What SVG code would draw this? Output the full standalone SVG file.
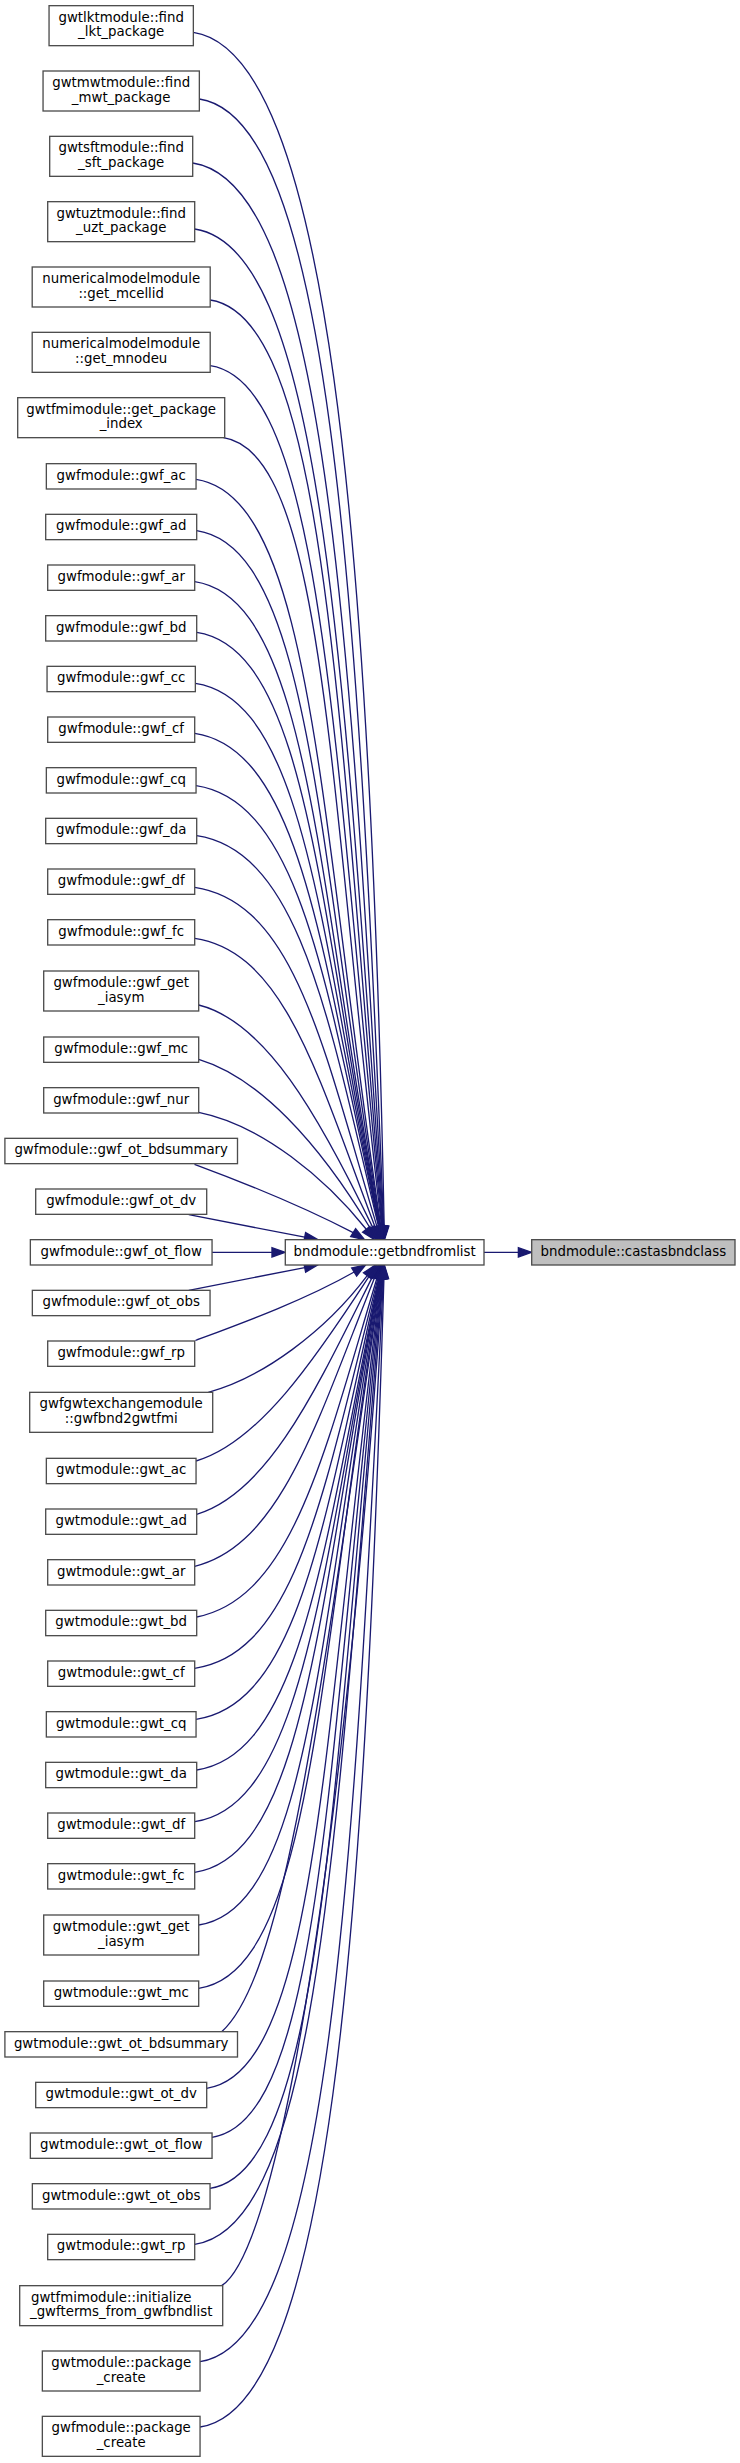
<svg xmlns="http://www.w3.org/2000/svg" width="740" height="2463" viewBox="0 0 740 2463">
<style>
.n rect{fill:#ffffff;stroke:#4d4d4d;stroke-width:1.33}
.root rect{fill:#bfbfbf}
text{font-family:"DejaVu Sans","Liberation Sans",sans-serif;font-size:13.33px;fill:#000000;text-anchor:middle}
.e path{fill:none;stroke:#191970;stroke-width:1.33}
.e polygon{fill:#191970;stroke:#191970;stroke-width:1.33}
</style>
<rect x="0" y="0" width="740" height="2463" fill="#ffffff"/>
<g id="edges" class="e">
<path d="M193.35,32.3 C326.95,52.3 370.33,533.84 384.18,1226.34"/><polygon points="384.45,1239.67 388.85,1226.25 379.51,1226.43"/>
<path d="M199.35,99 C327.65,118.25 357.6,574.75 383.66,1226.35"/><polygon points="384.19,1239.67 388.33,1226.16 378.99,1226.54"/>
<path d="M192.7,163 C323.2,182.6 349.7,615.96 383.27,1226.36"/><polygon points="384,1239.67 387.93,1226.1 378.61,1226.62"/>
<path d="M194.7,229 C321.3,248 343.18,658.87 382.88,1226.37"/><polygon points="383.81,1239.67 387.54,1226.04 378.22,1226.7"/>
<path d="M210.2,300 C324.1,317.1 338.09,703.69 382.49,1226.39"/><polygon points="383.62,1239.67 387.14,1225.99 377.84,1226.79"/>
<path d="M210.2,365.7 C321.9,382.5 333.9,744.41 382.1,1226.41"/><polygon points="383.43,1239.67 386.75,1225.95 377.45,1226.87"/>
<path d="M223.5,437.7 C324.2,452.8 329.09,788.74 381.59,1226.44"/><polygon points="383.18,1239.67 386.23,1225.88 376.95,1227"/>
<path d="M196.05,479.3 C312.45,496.8 318.92,813.99 380.82,1226.49"/><polygon points="382.8,1239.67 385.44,1225.8 376.2,1227.18"/>
<path d="M196.7,530.7 C310.8,547.8 317.54,845.22 380.44,1226.52"/><polygon points="382.61,1239.67 385.05,1225.76 375.83,1227.28"/>
<path d="M194.7,581.7 C308.1,598.7 316.76,875.15 380.06,1226.55"/><polygon points="382.42,1239.67 384.66,1225.72 375.46,1227.38"/>
<path d="M196.7,632.3 C307.1,648.9 318.7,905.07 379.8,1226.57"/><polygon points="382.29,1239.67 384.39,1225.7 375.21,1227.44"/>
<path d="M195.35,683.3 C304.75,699.7 321.06,934.3 379.56,1226.6"/><polygon points="382.17,1239.67 384.14,1225.68 374.98,1227.52"/>
<path d="M194.7,733.3 C302.9,749.5 324,963.22 379.3,1226.62"/><polygon points="382.04,1239.67 383.87,1225.66 374.73,1227.58"/>
<path d="M196.05,785.7 C301.65,801.5 327.55,992.55 379.05,1226.65"/><polygon points="381.91,1239.67 383.61,1225.65 374.49,1227.65"/>
<path d="M196.7,835.7 C300,851.2 329.05,1020.61 378.55,1226.71"/><polygon points="381.66,1239.67 383.09,1225.62 374.01,1227.8"/>
<path d="M194.7,887.3 C295,902.3 323.67,1048.9 377.07,1226.9"/><polygon points="380.9,1239.67 381.54,1225.56 372.6,1228.24"/>
<path d="M194.7,938.3 C284.9,951.8 318.06,1077.01 375.16,1227.21"/><polygon points="379.89,1239.67 379.53,1225.55 370.79,1228.87"/>
<path d="M198.7,1005 C264.9,1021.55 317.75,1112.95 372.85,1227.65"/><polygon points="378.62,1239.67 377.06,1225.63 368.64,1229.67"/>
<path d="M198.7,1059.3 C258.7,1077.3 318.54,1142.04 370.24,1228.24"/><polygon points="377.1,1239.67 374.24,1225.84 366.24,1230.64"/>
<path d="M198.7,1112.3 C262,1125 325.67,1178.46 366.27,1229.26"/><polygon points="374.6,1239.67 369.92,1226.34 362.62,1232.18"/>
<path d="M194.5,1164.3 C245,1183 300,1205 353.17,1232.65"/><polygon points="364.5,1239.67 355.63,1228.68 350.71,1236.62"/>
<path d="M188.8,1214.7 C230,1222.6 270,1230.4 304.71,1237.14"/><polygon points="317.8,1239.67 305.6,1232.56 303.82,1241.72"/>
<path d="M212.05,1252.33 L271.97,1252.33"/><polygon points="285.3,1252.33 271.97,1247.66 271.97,1257"/>
<path d="M188.8,1290.33 C230,1282.2 270,1274.4 304.72,1267.57"/><polygon points="317.8,1265 303.82,1262.99 305.62,1272.15"/>
<path d="M195.4,1340.5 C245,1322 305,1300 354.17,1272.02"/><polygon points="365.5,1265 356.63,1275.99 351.71,1268.05"/>
<path d="M208.3,1392.3 C262,1378 325.2,1331.66 367.2,1275.66"/><polygon points="375.2,1265 370.94,1278.46 363.46,1272.86"/>
<path d="M196.05,1461 C258,1443 314.6,1360.18 369.2,1276.18"/><polygon points="376.46,1265 373.12,1278.73 365.28,1273.63"/>
<path d="M196.7,1514.3 C268.7,1492.7 316.61,1388.52 372.41,1276.92"/><polygon points="378.37,1265 376.59,1279.01 368.23,1274.83"/>
<path d="M194.7,1566.3 C281.1,1544.7 316.88,1421.88 374.68,1277.38"/><polygon points="379.63,1265 379.02,1279.11 370.34,1275.65"/>
<path d="M196.7,1617 C292.3,1597.9 324.17,1454.17 377.07,1277.77"/><polygon points="380.9,1265 381.54,1279.11 372.6,1276.43"/>
<path d="M194.7,1668.3 C298.8,1652.7 324.56,1483.6 378.06,1277.9"/><polygon points="381.41,1265 382.58,1279.07 373.54,1276.73"/>
<path d="M196.05,1719.3 C301.45,1703.5 324.9,1512.29 378.8,1277.99"/><polygon points="381.79,1265 383.35,1279.04 374.25,1276.94"/>
<path d="M196.7,1770 C303.5,1754 324.1,1540.75 379.3,1278.05"/><polygon points="382.04,1265 383.87,1279.01 374.73,1277.09"/>
<path d="M194.7,1821.7 C304.5,1805.2 321.06,1570.57 379.56,1278.07"/><polygon points="382.17,1265 384.14,1278.99 374.98,1277.15"/>
<path d="M194.7,1872.3 C306.3,1855.6 318.7,1599.6 379.8,1278.1"/><polygon points="382.29,1265 384.39,1278.97 375.21,1277.23"/>
<path d="M198.7,1925 C309.8,1908.3 318.48,1630.63 380.18,1278.13"/><polygon points="382.48,1265 384.78,1278.94 375.58,1277.32"/>
<path d="M198.7,1988.3 C312,1971.3 318.16,1668.06 380.56,1278.16"/><polygon points="382.67,1265 385.17,1278.9 375.95,1277.42"/>
<path d="M221.7,2031.67 C285,1975 320.65,1694.19 380.95,1278.19"/><polygon points="382.86,1265 385.57,1278.86 376.33,1277.52"/>
<path d="M206.7,2088.3 C318.5,2071.5 322.73,1728.62 381.33,1278.22"/><polygon points="383.05,1265 385.96,1278.82 376.7,1277.62"/>
<path d="M212.05,2137.3 C322.35,2120.8 326.42,1759.34 381.72,1278.24"/><polygon points="383.24,1265 386.36,1278.77 377.08,1277.71"/>
<path d="M210.05,2188.3 C323.25,2171.3 330.9,1790.66 382.1,1278.26"/><polygon points="383.43,1265 386.75,1278.72 377.45,1277.8"/>
<path d="M194.7,2244.3 C320,2225.5 335.89,1825.98 382.49,1278.28"/><polygon points="383.62,1265 387.14,1278.68 377.84,1277.88"/>
<path d="M221.7,2285.67 C280,2248 342.68,1852.5 382.88,1278.3"/><polygon points="383.81,1265 387.54,1278.63 378.22,1277.97"/>
<path d="M200.05,2361.7 C326.55,2342.7 352.2,1901.31 383.4,1278.31"/><polygon points="384.07,1265 388.06,1278.54 378.74,1278.08"/>
<path d="M200.05,2427 C328.75,2407.7 363.92,1944.53 383.92,1278.33"/><polygon points="384.32,1265 388.59,1278.47 379.25,1278.19"/>
<path d="M484,1252.33 L518.37,1252.33"/><polygon points="531.7,1252.33 518.37,1247.66 518.37,1257"/>
</g>
<g id="node_castasbndclass" class="n root"><rect x="531.7" y="1239.67" width="203.3" height="25.33"/><text x="633.35" y="1255.67">bndmodule::castasbndclass</text></g>
<g id="node_getbndfromlist" class="n"><rect x="285.3" y="1239.67" width="198.7" height="25.33"/><text x="384.65" y="1255.67">bndmodule::getbndfromlist</text></g>
<g id="node1" class="n"><rect x="49.05" y="5.67" width="144.3" height="40"/><text x="121.2" y="21.67">gwtlktmodule::find</text><text x="121.2" y="36.34">_lkt_package</text></g>
<g id="node2" class="n"><rect x="43.05" y="71" width="156.3" height="40"/><text x="121.2" y="87">gwtmwtmodule::find</text><text x="121.2" y="101.67">_mwt_package</text></g>
<g id="node3" class="n"><rect x="49.7" y="136.33" width="143" height="40"/><text x="121.2" y="152.33">gwtsftmodule::find</text><text x="121.2" y="167">_sft_package</text></g>
<g id="node4" class="n"><rect x="47.7" y="201.67" width="147" height="40"/><text x="121.2" y="217.67">gwtuztmodule::find</text><text x="121.2" y="232.34">_uzt_package</text></g>
<g id="node5" class="n"><rect x="32.2" y="267" width="178" height="40"/><text x="121.2" y="283">numericalmodelmodule</text><text x="121.2" y="297.67">::get_mcellid</text></g>
<g id="node6" class="n"><rect x="32.2" y="332.33" width="178" height="40"/><text x="121.2" y="348.33">numericalmodelmodule</text><text x="121.2" y="363">::get_mnodeu</text></g>
<g id="node7" class="n"><rect x="17.7" y="397.67" width="207" height="40"/><text x="121.2" y="413.67">gwtfmimodule::get_package</text><text x="121.2" y="428.34">_index</text></g>
<g id="node8" class="n"><rect x="46.35" y="463.67" width="149.7" height="25.33"/><text x="121.2" y="479.67">gwfmodule::gwf_ac</text></g>
<g id="node9" class="n"><rect x="45.7" y="514.33" width="151" height="25.33"/><text x="121.2" y="530.33">gwfmodule::gwf_ad</text></g>
<g id="node10" class="n"><rect x="47.7" y="565" width="147" height="25.33"/><text x="121.2" y="581">gwfmodule::gwf_ar</text></g>
<g id="node11" class="n"><rect x="45.7" y="615.67" width="151" height="25.33"/><text x="121.2" y="631.67">gwfmodule::gwf_bd</text></g>
<g id="node12" class="n"><rect x="47.05" y="666.33" width="148.3" height="25.33"/><text x="121.2" y="682.33">gwfmodule::gwf_cc</text></g>
<g id="node13" class="n"><rect x="47.7" y="717" width="147" height="25.33"/><text x="121.2" y="733">gwfmodule::gwf_cf</text></g>
<g id="node14" class="n"><rect x="46.35" y="767.67" width="149.7" height="25.33"/><text x="121.2" y="783.67">gwfmodule::gwf_cq</text></g>
<g id="node15" class="n"><rect x="45.7" y="818.33" width="151" height="25.33"/><text x="121.2" y="834.33">gwfmodule::gwf_da</text></g>
<g id="node16" class="n"><rect x="47.7" y="869" width="147" height="25.33"/><text x="121.2" y="885">gwfmodule::gwf_df</text></g>
<g id="node17" class="n"><rect x="47.7" y="919.67" width="147" height="25.33"/><text x="121.2" y="935.67">gwfmodule::gwf_fc</text></g>
<g id="node18" class="n"><rect x="43.7" y="971" width="155" height="40"/><text x="121.2" y="987">gwfmodule::gwf_get</text><text x="121.2" y="1001.67">_iasym</text></g>
<g id="node19" class="n"><rect x="43.7" y="1037" width="155" height="25.33"/><text x="121.2" y="1053">gwfmodule::gwf_mc</text></g>
<g id="node20" class="n"><rect x="43.7" y="1087.67" width="155" height="25.33"/><text x="121.2" y="1103.67">gwfmodule::gwf_nur</text></g>
<g id="node21" class="n"><rect x="4.9" y="1138.33" width="232.6" height="25.33"/><text x="121.2" y="1154.33">gwfmodule::gwf_ot_bdsummary</text></g>
<g id="node22" class="n"><rect x="35.7" y="1189" width="171" height="25.33"/><text x="121.2" y="1205">gwfmodule::gwf_ot_dv</text></g>
<g id="node23" class="n"><rect x="30.35" y="1239.67" width="181.7" height="25.33"/><text x="121.2" y="1255.67">gwfmodule::gwf_ot_flow</text></g>
<g id="node24" class="n"><rect x="32.35" y="1290.33" width="177.7" height="25.33"/><text x="121.2" y="1306.33">gwfmodule::gwf_ot_obs</text></g>
<g id="node25" class="n"><rect x="47.7" y="1341" width="147" height="25.33"/><text x="121.2" y="1357">gwfmodule::gwf_rp</text></g>
<g id="node26" class="n"><rect x="29.7" y="1392.33" width="183" height="40"/><text x="121.2" y="1408.33">gwfgwtexchangemodule</text><text x="121.2" y="1423">::gwfbnd2gwtfmi</text></g>
<g id="node27" class="n"><rect x="46.35" y="1458.33" width="149.7" height="25.33"/><text x="121.2" y="1474.33">gwtmodule::gwt_ac</text></g>
<g id="node28" class="n"><rect x="45.7" y="1509" width="151" height="25.33"/><text x="121.2" y="1525">gwtmodule::gwt_ad</text></g>
<g id="node29" class="n"><rect x="47.7" y="1559.67" width="147" height="25.33"/><text x="121.2" y="1575.67">gwtmodule::gwt_ar</text></g>
<g id="node30" class="n"><rect x="45.7" y="1610.33" width="151" height="25.33"/><text x="121.2" y="1626.33">gwtmodule::gwt_bd</text></g>
<g id="node31" class="n"><rect x="47.7" y="1661" width="147" height="25.33"/><text x="121.2" y="1677">gwtmodule::gwt_cf</text></g>
<g id="node32" class="n"><rect x="46.35" y="1711.67" width="149.7" height="25.33"/><text x="121.2" y="1727.67">gwtmodule::gwt_cq</text></g>
<g id="node33" class="n"><rect x="45.7" y="1762.33" width="151" height="25.33"/><text x="121.2" y="1778.33">gwtmodule::gwt_da</text></g>
<g id="node34" class="n"><rect x="47.7" y="1813" width="147" height="25.33"/><text x="121.2" y="1829">gwtmodule::gwt_df</text></g>
<g id="node35" class="n"><rect x="47.7" y="1863.67" width="147" height="25.33"/><text x="121.2" y="1879.67">gwtmodule::gwt_fc</text></g>
<g id="node36" class="n"><rect x="43.7" y="1915" width="155" height="40"/><text x="121.2" y="1931">gwtmodule::gwt_get</text><text x="121.2" y="1945.67">_iasym</text></g>
<g id="node37" class="n"><rect x="43.7" y="1981" width="155" height="25.33"/><text x="121.2" y="1997">gwtmodule::gwt_mc</text></g>
<g id="node38" class="n"><rect x="4.9" y="2031.67" width="232.6" height="25.33"/><text x="121.2" y="2047.67">gwtmodule::gwt_ot_bdsummary</text></g>
<g id="node39" class="n"><rect x="35.7" y="2082.33" width="171" height="25.33"/><text x="121.2" y="2098.33">gwtmodule::gwt_ot_dv</text></g>
<g id="node40" class="n"><rect x="30.35" y="2133" width="181.7" height="25.33"/><text x="121.2" y="2149">gwtmodule::gwt_ot_flow</text></g>
<g id="node41" class="n"><rect x="32.35" y="2183.67" width="177.7" height="25.33"/><text x="121.2" y="2199.67">gwtmodule::gwt_ot_obs</text></g>
<g id="node42" class="n"><rect x="47.7" y="2234.33" width="147" height="25.33"/><text x="121.2" y="2250.33">gwtmodule::gwt_rp</text></g>
<g id="node43" class="n"><rect x="19.7" y="2285.67" width="203" height="40"/><text x="31" y="2301.67" style="text-anchor:start">gwtfmimodule::initialize</text><text x="121.2" y="2316.34">_gwfterms_from_gwfbndlist</text></g>
<g id="node44" class="n"><rect x="42.35" y="2351" width="157.7" height="40"/><text x="121.2" y="2367">gwtmodule::package</text><text x="121.2" y="2381.67">_create</text></g>
<g id="node45" class="n"><rect x="42.35" y="2416.33" width="157.7" height="40"/><text x="121.2" y="2432.33">gwfmodule::package</text><text x="121.2" y="2447">_create</text></g>
</svg>
